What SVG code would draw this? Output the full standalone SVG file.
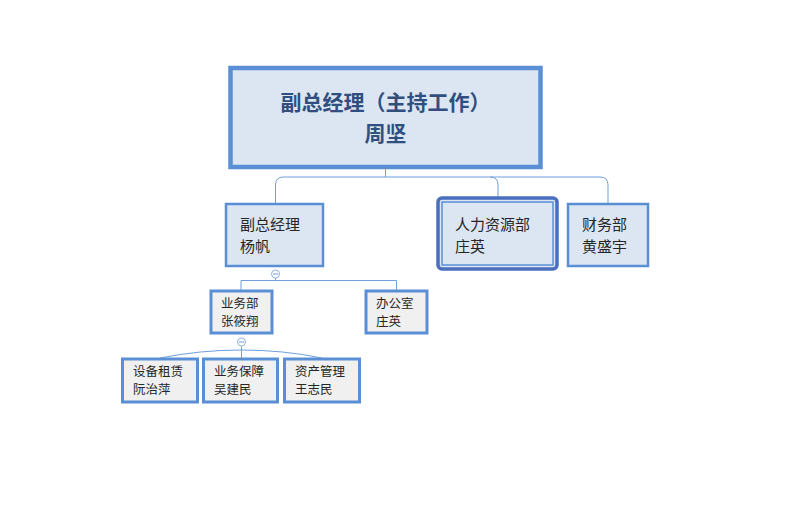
<svg xmlns="http://www.w3.org/2000/svg" width="796" height="510" viewBox="0 0 796 510">
<style>
text{font-family:"Noto Sans CJK SC","Liberation Sans",sans-serif;fill:#262626}
.b{fill:#dce6f2;stroke:#5a8fd6;stroke-width:2.5}
.g{fill:#f0f0f0;stroke:#5a8fd6;stroke-width:3}
.m{font-size:15px}
.s{font-size:12.5px}
.c{fill:none;stroke:#6f9fdc;stroke-width:1}
.k{fill:#fff;stroke:#8fb0e0;stroke-width:1}
</style>
<rect width="796" height="510" fill="#fff"/>
<g id="connectors">
<path class="c" d="M385.5 168V177M275.5 203V185Q275.5 177 283.5 177H600Q608 177 608 185V203M490 177Q498 177 498 185V199"/>
<path class="c" d="M275.5 278V280.5M241 290V280.5H396.5V290"/>
<path class="c" d="M241.5 346V358M241.5 350Q200 350 160 358M241.5 350Q283 350 322 358"/>
<circle class="k" cx="275.5" cy="274" r="4"/><path d="M273 274h5" stroke="#6f9fdc"/>
<circle class="k" cx="241.5" cy="342" r="4"/><path d="M239 342h5" stroke="#6f9fdc"/>
</g>
<g id="root">
<rect x="230.5" y="68" width="310" height="99" fill="#dce6f2" stroke="#5a8fd6" stroke-width="4.5"/>
<text x="385.5" y="110" text-anchor="middle" font-size="21" font-weight="bold" style="fill:#2e4f7f">副总经理（主持工作）</text>
<text x="385.5" y="141" text-anchor="middle" font-size="21" font-weight="bold" style="fill:#2e4f7f">周坚</text>
</g>
<g id="yang">
<rect class="b" x="226" y="204" width="97" height="62"/>
<text class="m" x="240" y="230">副总经理</text><text class="m" x="240" y="252">杨帆</text>
</g>
<g id="hr">
<rect x="438" y="198" width="119" height="71" rx="4" fill="#dce6f2" stroke="#4a6fbf" stroke-width="3.5"/>
<rect x="442" y="202" width="111" height="63" fill="none" stroke="#5a8fd6" stroke-width="1.5"/>
<text class="m" x="455" y="230">人力资源部</text><text class="m" x="455" y="252">庄英</text>
</g>
<g id="finance">
<rect class="b" x="568" y="204" width="80" height="62"/>
<text class="m" x="582" y="230">财务部</text><text class="m" x="582" y="252">黄盛宇</text>
</g>
<g id="biz">
<rect class="g" x="211" y="291" width="61" height="42"/>
<text class="s" x="221" y="308">业务部</text><text class="s" x="221" y="326">张筱翔</text>
</g>
<g id="office">
<rect class="g" x="366" y="291" width="61" height="42"/>
<text class="s" x="376" y="308">办公室</text><text class="s" x="376" y="326">庄英</text>
</g>
<g id="equip">
<rect class="g" x="122.5" y="359" width="75" height="43"/>
<text class="s" x="133" y="376">设备租赁</text><text class="s" x="133" y="394">阮治萍</text>
</g>
<g id="support">
<rect class="g" x="203.5" y="359" width="74" height="43"/>
<text class="s" x="214" y="376">业务保障</text><text class="s" x="214" y="394">吴建民</text>
</g>
<g id="asset">
<rect class="g" x="284.5" y="359" width="75" height="43"/>
<text class="s" x="295" y="376">资产管理</text><text class="s" x="295" y="394">王志民</text>
</g>
</svg>
